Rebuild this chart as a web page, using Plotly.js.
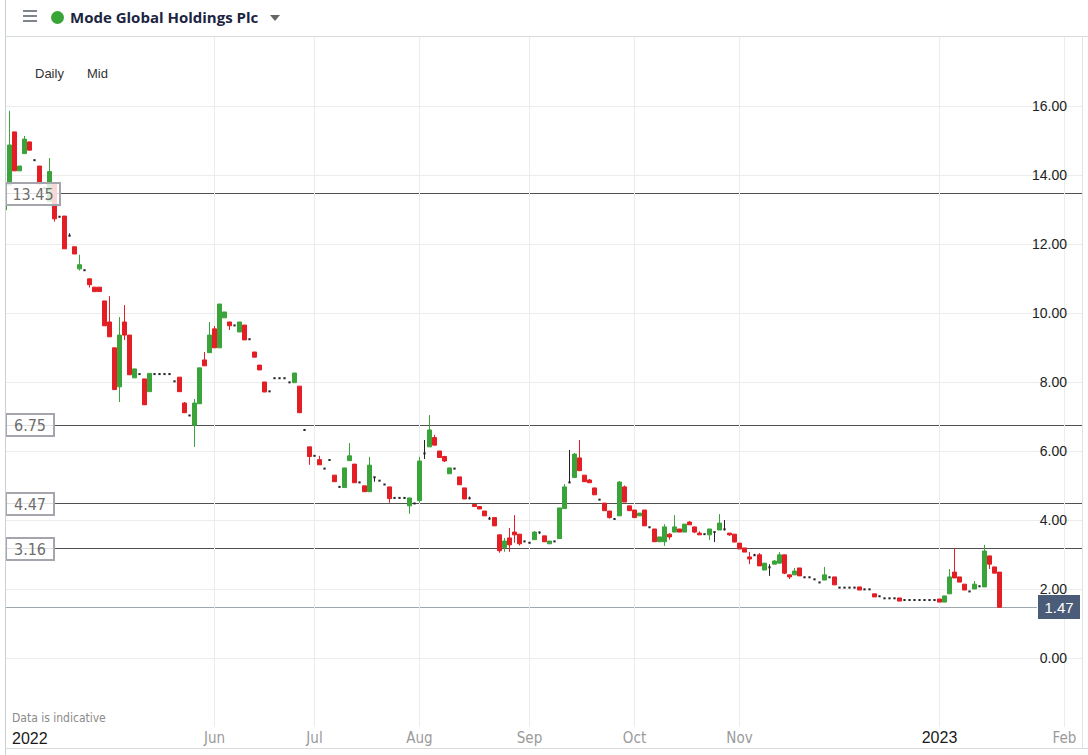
<!DOCTYPE html>
<html><head><meta charset="utf-8">
<script src="https://cdn.plot.ly/plotly-3.0.1.min.js"></script>
<style>
html,body{margin:0;padding:0;background:#fff;}
#wrap{position:relative;width:1088px;height:755px;overflow:hidden;}
#chart{position:absolute;left:0;top:0;width:1088px;height:755px;}
.ov{position:absolute;pointer-events:none;}
</style></head><body>
<div id="wrap">
<div id="chart"></div>
<div class="ov" style="left:23px;top:10px;width:14px;height:2px;background:#80858b"></div>
<div class="ov" style="left:23px;top:15px;width:14px;height:2px;background:#80858b"></div>
<div class="ov" style="left:23px;top:20px;width:14px;height:2px;background:#80858b"></div>
<div class="ov" style="left:51px;top:11px;width:13px;height:13px;border-radius:50%;background:#3aa537"></div>
<div class="ov" style="left:270px;top:15px;width:0;height:0;border-left:5px solid transparent;border-right:5px solid transparent;border-top:6px solid #666"></div>
<div class="ov" style="left:5px;top:0;width:1px;height:755px;background:#c9d1d5"></div>
<div class="ov" style="left:5px;top:36px;width:1083px;height:1px;background:#d5dbde"></div>
<div class="ov" style="left:1082px;top:36px;width:1px;height:712px;background:#dfe4e7"></div>
<div class="ov" style="left:5px;top:748px;width:1083px;height:1px;background:#d5dbde"></div>
</div>
<script>
const TITLE = 'Mode Global Holdings Plc';
const GREEN = '#3aa33a', RED = '#e31e24', DOJI = '#222222';
const closedDays = ['2022-04-15','2022-04-18','2022-05-02','2022-06-02','2022-06-03','2022-08-29','2022-09-19','2022-12-23','2022-12-26','2022-12-27','2022-12-30','2023-01-02'];
function buildDates(start, end, closed) {
  const out = [];
  const d = new Date(start + 'T00:00:00Z');
  const e = new Date(end + 'T00:00:00Z');
  while (d <= e) {
    const wd = d.getUTCDay();
    const s = d.toISOString().slice(0, 10);
    if (wd !== 0 && wd !== 6 && closed.indexOf(s) < 0) out.push(s);
    d.setUTCDate(d.getUTCDate() + 1);
  }
  return out;
}
const dates = buildDates('2022-03-30', '2023-01-19', closedDays);

const open = [
12.99,13.71,15.25,14.12,14.62,14.96,14.43,14.26,13.62,13.23,
13.74,12.79,12.81,12.24,11.92,11.28,11.24,10.99,10.75,10.75,
10.35,9.74,8.99,7.86,9.74,9.36,8.12,8.23,8.09,7.72,
8.23,8.23,8.23,8.23,8.02,8.14,7.39,7.03,6.75,7.37,
8.64,8.85,9.54,8.99,9.86,9.74,9.64,9.45,9.65,9.24,
8.87,8.49,8.00,7.73,8.11,8.11,8.11,7.99,7.98,7.88,
6.61,6.12,5.86,5.75,5.49,5.74,5.30,4.96,4.94,5.72,
5.62,5.09,4.99,4.82,5.24,5.14,5.03,4.96,4.64,4.64,
4.64,4.41,4.48,4.56,5.93,6.12,6.39,6.00,5.84,5.34,
5.49,5.25,4.93,4.63,4.45,4.39,4.26,4.04,4.07,3.57,
3.20,3.48,3.65,3.59,3.38,3.34,3.43,3.64,3.54,3.31,
3.38,3.46,4.33,5.09,5.23,5.80,5.30,5.16,4.93,4.59,
4.49,4.26,4.03,4.12,4.96,4.41,4.29,4.12,4.29,3.79,
3.74,3.37,3.37,3.59,3.65,3.74,3.65,3.94,3.80,3.62,
3.59,3.57,3.65,3.71,3.73,3.62,3.59,3.33,3.19,2.93,
2.98,2.99,2.55,2.63,2.72,2.75,2.99,2.41,2.41,2.61,
2.34,2.34,2.28,2.19,2.26,2.34,2.35,2.04,2.04,2.04,
2.04,2.06,1.99,1.99,1.86,1.79,1.73,1.73,1.73,1.74,
1.68,1.68,1.68,1.68,1.68,1.68,1.68,1.71,1.62,1.86,
2.49,2.35,2.14,1.93,2.00,2.08,2.06,2.96,2.64,2.49];

const close = [
13.36,14.87,14.12,14.26,15.04,14.72,14.43,13.74,13.62,14.10,
12.73,12.79,11.86,12.24,11.71,11.40,11.24,10.82,10.62,10.62,
9.63,9.31,7.78,9.36,9.36,8.21,8.38,8.23,7.34,8.25,
8.23,8.23,8.23,8.23,8.02,7.72,7.11,7.03,7.39,8.41,
8.47,9.36,8.99,10.26,10.03,9.63,9.64,9.74,9.22,9.24,
8.72,8.35,7.71,7.73,8.11,8.11,8.11,7.99,8.26,7.11,
6.61,5.84,5.86,5.60,5.49,5.74,5.11,4.96,5.51,5.86,
5.08,5.09,4.82,5.59,5.24,5.14,5.03,4.62,4.64,4.64,
4.64,4.64,4.48,5.71,5.93,6.61,6.17,5.81,5.71,5.51,
5.49,5.02,4.61,4.63,4.39,4.32,4.12,4.04,3.83,3.11,
3.39,3.28,3.57,3.31,3.38,3.34,3.65,3.64,3.37,3.39,
3.38,4.35,4.96,5.09,5.91,5.43,5.11,5.08,4.73,4.59,
4.27,4.07,4.03,5.10,4.52,4.27,4.07,4.20,3.83,3.79,
3.37,3.51,3.80,3.51,3.80,3.65,3.88,3.86,3.65,3.57,
3.59,3.74,3.65,3.91,3.73,3.57,3.36,3.16,3.07,2.87,
2.98,2.67,2.75,2.63,2.81,2.99,2.46,2.35,2.52,2.38,
2.34,2.34,2.28,2.19,2.41,2.34,2.12,2.04,2.04,2.04,
2.04,1.97,1.99,1.99,1.77,1.79,1.73,1.73,1.73,1.65,
1.68,1.68,1.68,1.68,1.68,1.68,1.68,1.62,1.80,2.35,
2.32,2.20,1.97,1.93,2.14,2.08,3.10,2.72,2.46,1.47];

const high = [
13.36,15.86,15.25,14.26,15.13,14.96,14.43,14.26,13.62,14.49,
13.74,12.79,12.81,12.31,11.92,11.69,11.24,10.99,10.75,10.75,
10.35,10.49,8.99,9.88,10.23,9.36,8.38,8.23,8.09,8.25,
8.23,8.23,8.23,8.23,8.02,8.14,7.42,7.03,7.51,8.41,
8.87,9.74,9.62,10.26,10.03,9.74,9.64,9.74,9.65,9.24,
8.87,8.49,8.00,7.73,8.11,8.11,8.11,7.99,8.26,7.88,
6.61,6.12,5.86,5.86,5.49,5.74,5.30,4.96,5.51,6.23,
5.62,5.09,4.99,5.83,5.24,5.14,5.03,4.96,4.64,4.64,
4.64,4.64,4.48,5.83,6.32,7.04,6.47,6.00,5.86,5.51,
5.49,5.25,4.93,4.68,4.45,4.39,4.26,4.09,4.07,3.57,
3.48,3.77,4.14,3.59,3.38,3.34,3.68,3.66,3.54,3.39,
3.38,4.35,5.04,6.03,5.94,6.32,5.30,5.19,4.93,4.59,
4.49,4.26,4.03,5.13,5.00,4.41,4.29,4.20,4.29,3.79,
3.74,3.51,3.88,3.62,4.14,3.74,3.88,3.97,3.80,3.67,
3.59,3.74,3.66,4.17,4.00,3.62,3.59,3.33,3.19,3.07,
3.02,3.04,2.75,2.72,2.84,3.07,2.99,2.41,2.61,2.61,
2.34,2.34,2.28,2.19,2.64,2.34,2.35,2.04,2.04,2.04,
2.04,2.06,1.99,1.99,1.86,1.79,1.73,1.73,1.73,1.74,
1.68,1.68,1.68,1.68,1.68,1.68,1.68,1.71,1.80,2.58,
3.19,2.35,2.14,1.93,2.23,2.08,3.28,2.96,2.64,2.49];

const low = [
12.99,13.71,14.12,14.12,14.62,14.72,14.43,13.74,13.62,13.23,
12.65,12.79,11.86,12.24,11.71,11.23,11.24,10.74,10.62,10.62,
9.63,9.31,7.78,7.42,9.22,8.21,8.12,8.23,7.34,7.72,
8.23,8.23,8.23,8.23,8.02,7.72,7.11,7.03,6.12,7.37,
8.47,8.85,8.99,8.99,9.86,9.51,9.64,9.45,9.22,9.24,
8.72,8.35,7.71,7.73,8.11,8.11,8.11,7.99,7.98,7.11,
6.61,5.60,5.86,5.60,5.49,5.74,5.11,4.96,4.94,5.72,
5.08,5.09,4.82,4.82,5.11,5.14,5.03,4.50,4.64,4.64,
4.64,4.18,4.48,4.50,5.77,6.12,6.17,5.81,5.68,5.34,
5.49,5.02,4.61,4.60,4.39,4.32,4.12,4.01,3.83,3.05,
3.08,3.08,3.34,3.26,3.38,3.34,3.43,3.60,3.37,3.31,
3.38,3.46,4.33,5.07,5.23,5.43,5.11,5.08,4.73,4.59,
4.27,4.04,4.03,4.12,4.52,4.27,4.07,4.12,3.83,3.79,
3.37,3.37,3.25,3.43,3.65,3.65,3.65,3.86,3.62,3.57,
3.59,3.42,3.36,3.71,3.70,3.54,3.36,3.16,3.07,2.72,
2.96,2.67,2.55,2.38,2.72,2.75,2.43,2.29,2.41,2.38,
2.34,2.34,2.28,2.19,2.26,2.34,2.12,2.04,2.04,2.04,
2.04,1.97,1.99,1.99,1.77,1.79,1.73,1.73,1.73,1.65,
1.68,1.68,1.68,1.68,1.68,1.68,1.68,1.62,1.62,1.86,
2.32,2.20,1.97,1.93,2.00,2.08,2.06,2.58,2.46,1.47];

const levels = [13.45, 6.75, 4.47, 3.16];
const lastPrice = 1.47;
const tickDates = ['2022-06-01','2022-07-01','2022-08-01','2022-09-01','2022-10-03','2022-11-01','2023-01-03','2023-02-01'];
const tickLabels = ['Jun','Jul','Aug','Sep','Oct','Nov','2023','Feb'];
const yTicks = [0, 2, 4, 6, 8, 10, 12, 14, 16];

const lastIdx = dates.length - 1;
function posOf(d) {
  const i = dates.indexOf(d);
  if (i >= 0) return i;
  const ms = Date.parse(d + 'T00:00:00Z') - Date.parse(dates[lastIdx] + 'T00:00:00Z');
  return lastIdx + Math.round(ms / 86400000);
}
const tickvals = tickDates.map(posOf);
const ticktext = tickLabels.map(t => /^\d{4}$/.test(t)
  ? '<span style="color:#1a1a1a;font-family:Liberation Sans, Arial, sans-serif;font-size:16px">' + t + '</span>' : t);
// right-aligned price labels: pad shorter labels with no-break spaces (2 spaces = 1 digit width)
const yText = yTicks.map(v => {
  const s = v.toFixed(2);
  return (s.length < 5 ? '\u00a0\u00a0' : '') + s;
});

const cx = [], co = [], ch = [], cl = [], cc = [], cd = [];
const dx = [], dy = [], dUp = [], dDn = [], dd = [];
dates.forEach((d, i) => {
  if (open[i] === close[i]) {
    dx.push(i); dy.push(close[i]); dUp.push(+(high[i] - close[i]).toFixed(2)); dDn.push(+(close[i] - low[i]).toFixed(2)); dd.push(d);
  } else {
    cx.push(i); co.push(open[i]); ch.push(high[i]); cl.push(low[i]); cc.push(close[i]); cd.push(d);
  }
});

const traces = [
  {type:'candlestick', x:cx, open:co, high:ch, low:cl, close:cc, text:cd, hoverinfo:'text+y',
   increasing:{line:{color:GREEN, width:1}, fillcolor:GREEN},
   decreasing:{line:{color:RED, width:1}, fillcolor:RED},
   whiskerwidth:0, showlegend:false},
  {type:'scatter', mode:'markers', x:dx, y:dy, text:dd, hoverinfo:'text+y', showlegend:false,
   marker:{symbol:'line-ew', size:1.6, color:DOJI, line:{width:2, color:DOJI}},
   error_y:{type:'data', symmetric:false, array:dUp, arrayminus:dDn, width:0, thickness:1, color:DOJI}}
];

const PL = 5, PT = 37, PW = 1078, PH = 690;
const px = x => (x - PL) / PW;
const py = y => (PT + PH - y) / PH;
const NARROW = 'Liberation Sans Narrow, Arial Narrow, DejaVu Sans Condensed, sans-serif';
const ARIAL = 'Liberation Sans, Arial, sans-serif';

const boxW = [52, 46, 46, 46];
const shapes = [];
const annotations = [];
levels.forEach((v, k) => {
  shapes.push({type:'line', xref:'paper', yref:'y', x0:0, x1:1, y0:v, y1:v, layer:'below', line:{color:'#505050', width:1}});
  annotations.push({xref:'paper', yref:'y', x:0, y:v, xanchor:'left', yanchor:'middle', showarrow:false,
    text:v.toFixed(2), width:boxW[k], height:20, borderpad:0, borderwidth:2, bordercolor:'#a5a5ad',
    bgcolor:'rgba(255,255,255,0.82)', align:'center', font:{family:NARROW, size:16, color:'#6e6e6e'}});
});
shapes.push({type:'line', xref:'paper', yref:'y', x0:0, x1:px(1037), y0:lastPrice, y1:lastPrice, layer:'below', line:{color:'#9ea6ae', width:1}});
annotations.push({xref:'paper', yref:'y', x:1, xshift:-3, y:lastPrice, xanchor:'right', yanchor:'middle', showarrow:false,
  text:lastPrice.toFixed(2), width:40, height:22, borderpad:0, bgcolor:'#4b5c79', bordercolor:'#4b5c79', borderwidth:1,
  font:{family:ARIAL, size:15, color:'#ffffff'}});
annotations.push({xref:'paper', yref:'paper', x:px(33), y:py(74), xanchor:'left', yanchor:'middle', showarrow:false, text:'Daily', font:{family:ARIAL, size:13, color:'#333'}});
annotations.push({xref:'paper', yref:'paper', x:px(85), y:py(74), xanchor:'left', yanchor:'middle', showarrow:false, text:'Mid', font:{family:ARIAL, size:13, color:'#333'}});
annotations.push({xref:'paper', yref:'paper', x:px(10), y:py(718), xanchor:'left', yanchor:'middle', showarrow:false, text:'Data is indicative', font:{family:NARROW, size:12, color:'#8a8a8a'}});
annotations.push({xref:'paper', yref:'paper', x:px(10), y:py(739), xanchor:'left', yanchor:'middle', showarrow:false, text:'2022', font:{family:ARIAL, size:16, color:'#1a1a1a'}});

const layout = {
  width:1088, height:755,
  margin:{l:PL, r:5, t:PT, b:28, pad:0},
  paper_bgcolor:'#ffffff', plot_bgcolor:'#ffffff',
  showlegend:false, boxgap:0.2, boxgroupgap:0, hovermode:'closest',
  title:{text:TITLE, xref:'container', yref:'container', x:70/1088, xanchor:'left', y:1 - 17.5/755, yanchor:'middle',
    font:{family:'Open Sans, sans-serif', size:15, weight:700, color:'#1c2541'}},
  xaxis:{type:'linear', range:[0.1, 215.7], autorange:false, tickmode:'array', tickvals:tickvals, ticktext:ticktext,
    showgrid:true, gridcolor:'#ececec', gridwidth:1, zeroline:false, showline:false, ticks:'',
    tickfont:{family:NARROW, size:15, color:'#9a9a9a'}, rangeslider:{visible:false}, fixedrange:true},
  yaxis:{side:'right', range:[-2, 18], autorange:false, tickmode:'array', tickvals:yTicks, ticktext:yText,
    ticklabelposition:'outside', ticklabelstandoff:-52, ticklabeloverflow:'allow', automargin:false,
    showgrid:true, gridcolor:'#ececec', gridwidth:1,
    zeroline:false, showline:false, ticks:'', tickfont:{family:ARIAL, size:14, color:'#222'}, fixedrange:true},
  shapes:shapes, annotations:annotations
};
Plotly.newPlot('chart', traces, layout, {displayModeBar:false, staticPlot:true}).then(() => {
  document.querySelectorAll('#chart .shapelayer path').forEach(p => p.style.shapeRendering = 'crispEdges');
});
</script>
</body></html>
